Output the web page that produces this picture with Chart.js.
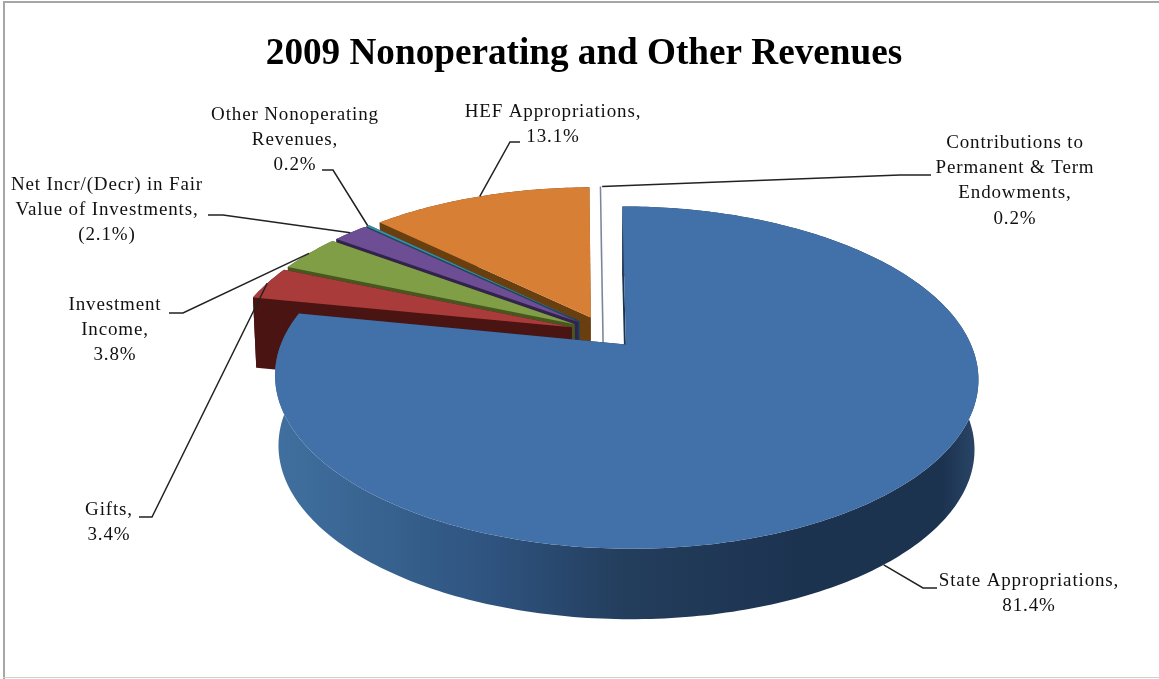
<!DOCTYPE html>
<html>
<head>
<meta charset="utf-8">
<title>2009 Nonoperating and Other Revenues</title>
<script src="https://cdn.jsdelivr.net/npm/chart.js@4"></script>
<style>
  html, body { margin: 0; padding: 0; background: #fff; }
  canvas { display: block; }
</style>
</head>
<body>
<canvas id="chPie" width="1159" height="679"></canvas>
<script>
/* Data, clockwise from 12 o'clock */
const categories = ['State Appropriations', 'Gifts', 'Investment Income', 'Net Incr/(Decr) in Fair Value of Investments',
    'Other Nonoperating Revenues', 'HEF Appropriations', 'Contributions to Permanent & Term Endowments'];
const sliceValues = [81.4, 3.4, 3.8, -2.1, 0.2, 13.1, 0.2];
const nameLines = [
    ['State Appropriations,'],
    ['Gifts,'],
    ['Investment', 'Income,'],
    ['Net Incr/(Decr) in Fair', 'Value of Investments,'],
    ['Other Nonoperating', 'Revenues,'],
    ['HEF Appropriations,'],
    ['Contributions to', 'Permanent & Term', 'Endowments,']
];

/* Colours: top face, side wall */
const topColors = ['#4270a8', '#a93c3a', '#7f9e45', '#6d4e95', '#3a8ea5', '#d77f35', '#ffffff'];
const wallColors = ['#1d3450', '#4a1412', '#46581f', '#33224d', '#1c4a58', '#6a3f0f', '#e8ebf0'];

/* Label layout: centre x, first line y, elbow of the leader line */
const labelCenterX = [1029, 109, 115, 107, 295, 553, 1015];
const labelTopY = [581, 510, 305, 185, 115, 112, 143];
const labelElbow = [[923, 588, 937], [152, 517, 139], [183, 313, 169], [223, 215, 208], [333, 170, 322], [510, 142, 520], [900, 175, 931]];
const leaderFromBase = [true, false, false, false, false, false, false];

/* Perspective of the pie */
const view = { cx: 604, cy: 332, a: 340, b: 160, k: 0.19, depth: 71, squeeze: 0.93, q: 0.01 };

function project(u, v, lower) {
    const w = 1 - view.k * v + (lower ? view.q : 0);
    return {
        x: view.cx + view.a * u / w,
        y: view.cy + (lower ? view.b * view.squeeze * v + view.depth : view.b * v) / w
    };
}

function formatValue(v) {
    return v < 0 ? '(' + (-v).toFixed(1) + '%)' : v.toFixed(1) + '%';
}

/* Unit disc geometry of one arc, from the element Chart.js laid out */
function arcGeometry(el) {
    const p = el.getProps(['startAngle', 'endAngle', 'outerRadius']);
    const mid = (p.startAngle + p.endAngle) / 2;
    const d = el.options.offset / p.outerRadius;
    return { start: p.startAngle, end: p.endAngle, mid: mid, ou: Math.cos(mid) * d, ov: Math.sin(mid) * d };
}

function rimPoints(g, lower) {
    const pts = [];
    const steps = Math.max(2, Math.ceil((g.end - g.start) * 60));
    for (let i = 0; i <= steps; i++) {
        const t = g.start + (g.end - g.start) * i / steps;
        pts.push(project(g.ou + Math.cos(t), g.ov + Math.sin(t), lower));
    }
    return pts;
}

function fillPath(ctx, pts, fill) {
    ctx.beginPath();
    pts.forEach((p, i) => i ? ctx.lineTo(p.x, p.y) : ctx.moveTo(p.x, p.y));
    ctx.closePath();
    ctx.fillStyle = fill;
    ctx.fill();
}

const pie3d = {
    id: 'pie3d',
    beforeDatasetsDraw(chart) {
        const ctx = chart.ctx;
        const arcs = chart.getDatasetMeta(0).data;
        ctx.save();
        // back to front: last slice is behind, State sits in front
        for (let i = arcs.length - 1; i >= 0; i--) {
            const g = arcGeometry(arcs[i]);
            const upper = rimPoints(g, false);
            const lower = rimPoints(g, true);
            const apexUp = project(g.ou, g.ov, false);
            const apexLow = project(g.ou, g.ov, true);
            let wall = wallColors[i];
            let side = wall;
            if (i === 0) {
                side = ctx.createLinearGradient(276, 0, 978, 0);
                side.addColorStop(0, '#40709f');
                side.addColorStop(0.3, '#2f5480');
                side.addColorStop(0.5, '#233d5c');
                side.addColorStop(0.75, '#1c3350');
                side.addColorStop(0.95, '#1c3350');
                side.addColorStop(1, '#2a4668');
            }
            fillPath(ctx, [apexUp, upper[0], lower[0], apexLow], wall);
            fillPath(ctx, [apexUp, upper[upper.length - 1], lower[lower.length - 1], apexLow], wall);
            fillPath(ctx, upper.concat(lower.slice().reverse()), side);
            fillPath(ctx, [apexUp].concat(upper), topColors[i]);
            if (i === arcs.length - 1) {
                // the thin white slice only shows through its outline
                ctx.beginPath();
                ctx.moveTo(upper[0].x, upper[0].y);
                ctx.lineTo(apexLow.x, apexLow.y);
                ctx.strokeStyle = '#7a8698';
                ctx.lineWidth = 1.5;
                ctx.stroke();
            }
        }
        ctx.restore();
        return false;
    },
    afterDraw(chart) {
        const ctx = chart.ctx;
        const arcs = chart.getDatasetMeta(0).data;
        ctx.save();
        // leader lines
        ctx.strokeStyle = '#222222';
        ctx.lineWidth = 1.5;
        arcs.forEach((el, i) => {
            const g = arcGeometry(el);
            const s = project(g.ou + Math.cos(g.mid), g.ov + Math.sin(g.mid), leaderFromBase[i]);
            const e = labelElbow[i];
            ctx.beginPath();
            ctx.moveTo(s.x, s.y);
            ctx.lineTo(e[0], e[1]);
            ctx.lineTo(e[2], e[1]);
            ctx.stroke();
        });
        // labels
        ctx.fillStyle = '#111111';
        ctx.font = '19px "Liberation Serif"';
        ctx.letterSpacing = '0.85px';
        ctx.textAlign = 'center';
        ctx.textBaseline = 'middle';
        arcs.forEach((el, i) => {
            const lines = nameLines[i].concat(formatValue(sliceValues[i]));
            lines.forEach((line, n) => {
                ctx.fillText(line, labelCenterX[i], labelTopY[i] + n * 25.2);
            });
        });
        ctx.letterSpacing = '0px';
        // frame
        ctx.fillStyle = '#a6a6a6';
        ctx.fillRect(3, 1, 2, 678);
        ctx.fillRect(3, 1, 1156, 2);
        ctx.fillStyle = '#d0d0d0';
        ctx.fillRect(3, 677, 1156, 1);
        ctx.restore();
    }
};

new Chart(document.getElementById('chPie'), {
    type: 'pie',
    data: {
        labels: categories,
        datasets: [{
            data: sliceValues,
            backgroundColor: topColors,
            borderWidth: 0,
            offset: 20
        }]
    },
    options: {
        responsive: false,
        animation: false,
        radius: 200,
        events: [],
        layout: { padding: { left: 9 } },
        plugins: {
            legend: { display: false },
            tooltip: { enabled: false },
            title: {
                display: true,
                text: '2009 Nonoperating and Other Revenues',
                color: '#000000',
                font: { family: '"Liberation Serif"', size: 37.2, weight: 'bold' },
                padding: { top: 32, bottom: 10 }
            }
        }
    },
    plugins: [pie3d]
});
</script>
</body>
</html>
